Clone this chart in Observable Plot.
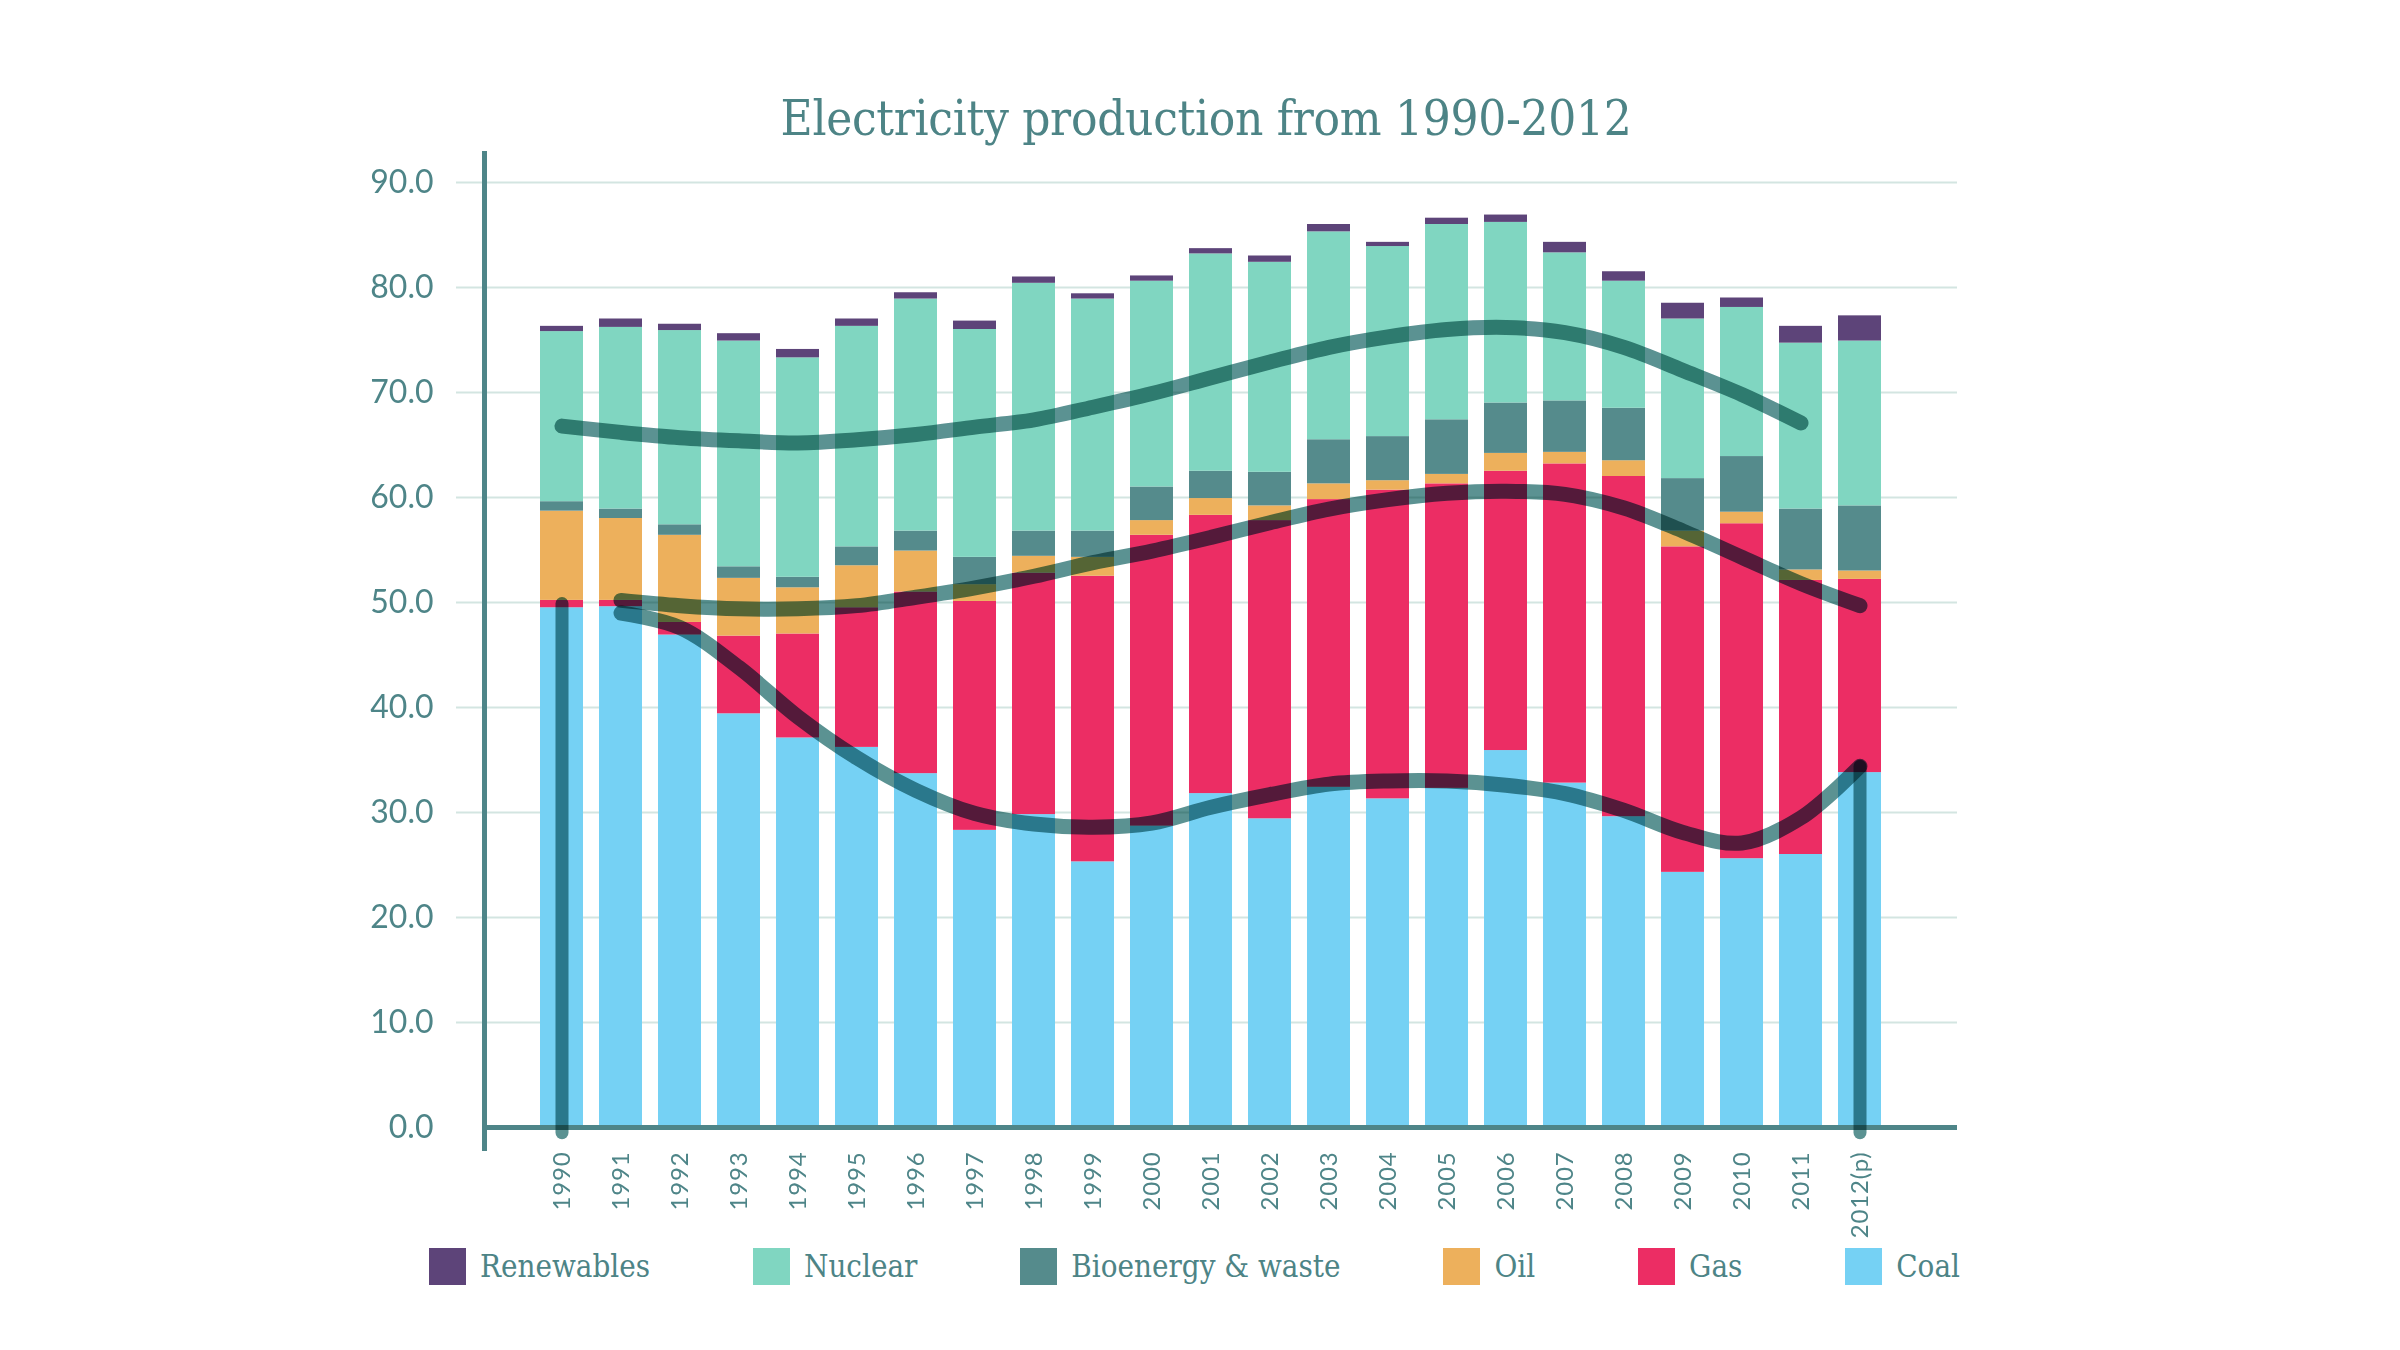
<!DOCTYPE html>
<html>
<head>
<meta charset="utf-8">
<script src="https://cdn.jsdelivr.net/npm/d3@7"></script>
<script src="https://cdn.jsdelivr.net/npm/@observablehq/plot@0.6"></script>
<style>
  body { margin: 0; background: #fff; }
  #page { position: relative; width: 2400px; height: 1350px; overflow: hidden; background: #fff; }
  #title { position: absolute; left: 0; top: 92px; width: 2412px; text-align: center; z-index: 2;
           font-family: "DejaVu Serif", serif; font-stretch: condensed; font-size: 49px; line-height: 54px;
           color: #4d8486; letter-spacing: -0.3px; }
  #chart { position: absolute; left: 0; top: 140px; z-index: 1; }
  #legend { position: absolute; left: 429px; width: 1531px; top: 1247px; height: 38px; z-index: 2;
            display: flex; justify-content: space-between; align-items: center;
            font-family: "DejaVu Serif", serif; font-stretch: condensed; font-size: 31px; color: #4d8486; }
  .item { display: flex; align-items: center; }
  .sw { width: 37px; height: 37px; margin-right: 14px; }
  #chart g[aria-label="x-axis tick label"] text { letter-spacing: 0.8px; }
</style>
</head>
<body>
<div id="page">
  <div id="title">Electricity production from 1990-2012</div>
  <div id="chart"></div>
  <div id="legend"></div>
</div>
<script>
const years = ["1990","1991","1992","1993","1994","1995","1996","1997","1998","1999","2000",
  "2001","2002","2003","2004","2005","2006","2007","2008","2009","2010","2011","2012(p)"];
const coal       = [49.5,49.6,46.9,39.4,37.1,36.2,33.7,28.3,29.8,25.3,28.7,31.8,29.4,32.4,31.3,32.3,35.9,32.8,29.6,24.3,25.6,26.0,33.8];
const gas        = [0.7,0.6,1.2,7.4,9.9,13.3,17.3,21.8,23.0,27.2,27.7,26.5,28.4,27.4,29.4,29.0,26.6,30.4,32.4,31.0,31.9,26.1,18.4];
const oil        = [8.5,7.8,8.3,5.5,4.4,4.0,3.9,1.6,1.6,1.8,1.4,1.6,1.4,1.5,0.9,0.9,1.7,1.1,1.5,1.5,1.1,1.0,0.8];
const bioenergy  = [0.9,0.9,1.0,1.1,1.0,1.8,1.9,2.6,2.4,2.5,3.2,2.6,3.2,4.2,4.2,5.2,4.8,4.9,5.0,5.0,5.3,5.8,6.2];
const nuclear    = [16.2,17.3,18.5,21.5,20.9,21.0,22.1,21.7,23.6,22.1,19.6,20.7,20.0,19.8,18.1,18.6,17.2,14.1,12.1,15.2,14.2,15.8,15.7];
const renewables = [0.5,0.8,0.6,0.7,0.8,0.7,0.6,0.8,0.6,0.5,0.5,0.5,0.6,0.7,0.4,0.6,0.7,1.0,0.9,1.5,0.9,1.6,2.4];

const sources = ["Renewables","Nuclear","Bioenergy & waste","Oil","Gas","Coal"];
const colors  = ["#5d4479","#80d6c1","#558b8c","#edb05c","#ec2d64","#75d1f4"];
const stackOrder = ["Coal","Gas","Oil","Bioenergy & waste","Nuclear","Renewables"];
const yTicks = [0,10,20,30,40,50,60,70,80,90];

// hand-drawn annotation strokes over the chart
const curveTopYears = years.slice(0, 22);
const curveTop = [66.8,66.2,65.7,65.4,65.2,65.5,66.0,66.7,67.4,68.6,69.9,71.4,72.9,74.3,75.3,76.0,76.2,75.7,74.3,72.1,69.8,67.1];
const curveMidYears = years.slice(1);
const curveMid = [50.2,49.7,49.4,49.4,49.7,50.5,51.4,52.5,53.8,54.9,56.2,57.6,58.9,59.8,60.4,60.6,60.3,59.0,56.8,54.3,51.8,49.7];
const curveLowYears = years.slice(1);
const curveLow = [49.0,47.6,43.8,39.1,35.2,32.1,29.9,28.9,28.6,29.0,30.5,31.7,32.7,33.0,33.0,32.6,31.8,30.2,28.1,27.1,29.5,34.4];
const markFirst = [49.9, -0.5];
const markLast  = [34.4, -0.5];

const table = [];
const series = {"Coal": coal, "Gas": gas, "Oil": oil, "Bioenergy & waste": bioenergy, "Nuclear": nuclear, "Renewables": renewables};
for (const s of stackOrder) years.forEach((yr, i) => table.push({year: yr, source: s, value: series[s][i]}));

const toRows = (xs, ys) => xs.map((x, i) => ({x, y: ys[i]}));
const axisColor = "#4e8588";
const strokeStyle = {x: "x", y: "y", stroke: "#5b9292", strokeWidth: 15, strokeLinecap: "round",
                     strokeLinejoin: "round", mixBlendMode: "multiply"};

const chart = Plot.plot({
  width: 2400,
  height: 1100,
  marginLeft: 484,
  marginRight: 443,
  marginTop: 42,
  marginBottom: 113,
  style: {fontFamily: "Lato, 'Open Sans', sans-serif", background: "transparent", color: axisColor},
  x: {type: "band", domain: years, range: [521.4, 1899], padding: 0.27, label: null},
  y: {domain: [0, 90], label: null},
  color: {domain: sources, range: colors},
  marks: [
    Plot.ruleY(yTicks.slice(1), {stroke: "#d3e5e1", strokeWidth: 2, insetLeft: -28}),
    Plot.barY(table, {x: "year", y: "value", fill: "source", order: stackOrder}),
    Plot.ruleY([0], {stroke: axisColor, strokeWidth: 5}),
    Plot.frame({anchor: "left", stroke: axisColor, strokeWidth: 5, insetTop: -29, insetBottom: -21}),
    Plot.axisY({ticks: yTicks, tickSize: 0, tickPadding: 51, tickFormat: d3.format(".1f"),
                fontSize: 32, color: axisColor, label: null}),
    Plot.axisX({tickRotate: -90, tickSize: 0, tickPadding: 24, fontSize: 24, color: axisColor, label: null}),
    Plot.line(toRows(curveTopYears, curveTop), {...strokeStyle, curve: "catmull-rom"}),
    Plot.line(toRows(curveMidYears, curveMid), {...strokeStyle, curve: "catmull-rom"}),
    Plot.line(toRows(curveLowYears, curveLow), {...strokeStyle, curve: "catmull-rom"}),
    Plot.line(toRows([years[0], years[0]], markFirst), {...strokeStyle, strokeWidth: 13}),
    Plot.line(toRows([years[22], years[22]], markLast), {...strokeStyle, strokeWidth: 13})
  ]
});
document.getElementById("chart").appendChild(chart);

const legend = document.getElementById("legend");
sources.forEach((s, i) => {
  const item = document.createElement("div");
  item.className = "item";
  const sw = document.createElement("div");
  sw.className = "sw";
  sw.style.background = colors[i];
  const label = document.createElement("span");
  label.textContent = s;
  item.appendChild(sw);
  item.appendChild(label);
  legend.appendChild(item);
});
</script>
</body>
</html>
